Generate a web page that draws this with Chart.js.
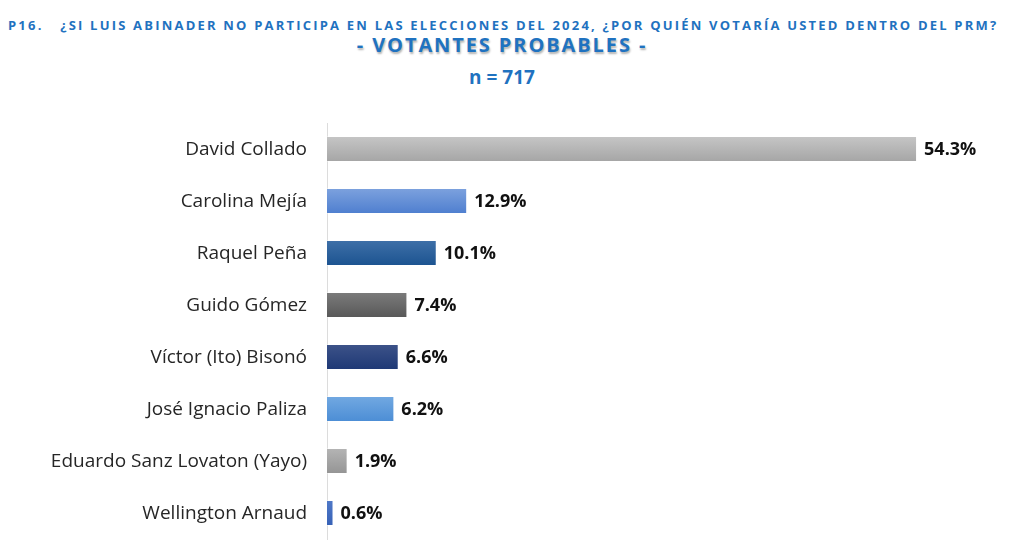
<!DOCTYPE html>
<html lang="es">
<head>
<meta charset="UTF-8">
<title>P16 - Votantes probables</title>
<style>
    html, body { margin: 0; padding: 0; background: #fff; }
    .wrap { position: relative; width: 1024px; height: 548px; overflow: hidden; }
    .head { position: absolute; left: 0; width: 1004px; color: #1f72c0; font-weight: bold; white-space: nowrap; }
    .q { top: 16px; left: 8px; font-family: "Open Sans", sans-serif; font-size: 13px; letter-spacing: 2.2px; }
    .sub { top: 31px; text-align: center; font-family: "Open Sans", sans-serif; font-size: 20px; letter-spacing: 1.9px; text-shadow: 1px 2px 2px rgba(0,0,0,0.3); }
    .n { top: 64px; text-align: center; font-family: "Open Sans", sans-serif; font-size: 19px; }
    canvas { position: absolute; left: 0; top: 0; }
</style>
</head>
<body>
<div class="wrap">
    <div class="head q">P16.&nbsp;&nbsp;&nbsp;¿SI LUIS ABINADER NO PARTICIPA EN LAS ELECCIONES DEL 2024, ¿POR QUIÉN VOTARÍA USTED DENTRO DEL PRM?</div>
    <div class="head sub">- VOTANTES PROBABLES -</div>
    <div class="head n">n = 717</div>
    <canvas id="grafico" width="1024" height="548"></canvas>
</div>

<script src="https://cdn.jsdelivr.net/npm/chart.js"></script>
<script>
    // datos
    var candidatos = [
        'David Collado',
        'Carolina Mejía',
        'Raquel Peña',
        'Guido Gómez',
        'Víctor (Ito) Bisonó',
        'José Ignacio Paliza',
        'Eduardo Sanz Lovaton (Yayo)',
        'Wellington Arnaud'
    ];
    var porcentajes = [54.3, 12.9, 10.1, 7.4, 6.6, 6.2, 1.9, 0.6];

    // colores arriba / abajo de cada barra
    var colorArriba = ['#c6c6c6', '#7da2de', '#3f70a8', '#7c7c7c', '#3d5389', '#72a9e2', '#b5b5b5', '#5079c8'];
    var colorAbajo  = ['#a5a5a5', '#4e7ecf', '#1b5390', '#575757', '#1e3875', '#4b8dd5', '#949494', '#3661b6'];

    function degradado(ctx) {
        var chart = ctx.chart;
        var i = ctx.dataIndex;
        if (!chart.chartArea || !chart.scales.y) return colorAbajo[i];
        var yc = chart.scales.y.getPixelForValue(i);
        var g = chart.ctx.createLinearGradient(0, yc - 13, 0, yc + 13);
        g.addColorStop(0, colorArriba[i]);
        g.addColorStop(1, colorAbajo[i]);
        return g;
    }

    var etiquetas = {
        id: 'etiquetas',
        afterDatasetsDraw: function (chart) {
            var c = chart.ctx;
            var meta = chart.getDatasetMeta(0);
            c.save();
            c.font = 'bold 18px "Open Sans", sans-serif';
            c.fillStyle = '#111';
            c.textAlign = 'left';
            c.textBaseline = 'middle';
            meta.data.forEach(function (bar, i) {
                c.fillText(porcentajes[i].toFixed(1) + '%', bar.x + 7, bar.y + 1);
            });
            c.restore();
        }
    };

    new Chart(document.getElementById('grafico'), {
        type: 'bar',
        data: {
            labels: candidatos,
            datasets: [{
                data: porcentajes,
                backgroundColor: degradado,
                borderColor: 'rgba(255,255,255,0.35)',
                borderWidth: 1,
                barPercentage: 0.5,
                categoryPercentage: 1
            }]
        },
        options: {
            indexAxis: 'y',
            responsive: false,
            animation: false,
            layout: { padding: { top: 123, right: 45, bottom: 9, left: 0 } },
            plugins: {
                legend: { display: false },
                tooltip: { enabled: false }
            },
            scales: {
                x: {
                    display: false,
                    min: 0,
                    max: 60
                },
                y: {
                    grid: { display: false },
                    border: { display: true, color: '#dcdcdc', width: 1 },
                    afterFit: function (s) {
                        s.width = 327;
                        s.paddingTop = 0;
                        s.paddingBottom = 0;
                    },
                    ticks: {
                        padding: 12,
                        labelOffset: 1,
                        color: '#262626',
                        font: { family: '"Open Sans", sans-serif', size: 19 }
                    }
                }
            }
        },
        plugins: [etiquetas]
    });
</script>
</body>
</html>
